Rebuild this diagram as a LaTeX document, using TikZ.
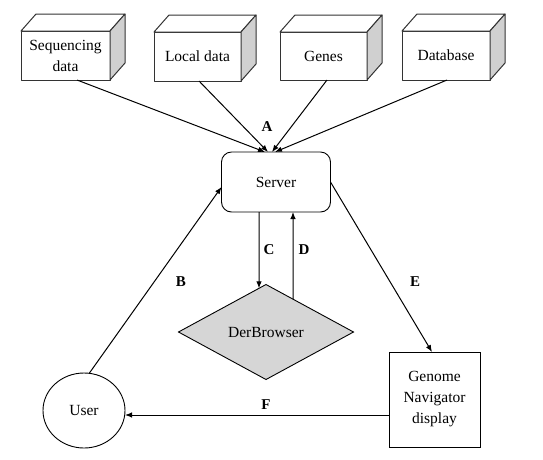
\documentclass[tikz,border=0pt]{standalone}
\usepackage{fontspec}
\setmainfont{Liberation Serif}
\usetikzlibrary{arrows.meta,shapes.geometric}
\definecolor{sidegray}{HTML}{D0D0D0}
\definecolor{diagray}{HTML}{D6D6D6}
\newcommand\cubefaces[1]{%
  \draw[boxline, fill=white] (#1.north west) -- ++(15,-17) -- ([shift={(15pt,17pt)}]#1.north east) -- (#1.north east) -- cycle;
  \draw[boxline, fill=sidegray] (#1.north east) -- ([shift={(15pt,17pt)}]#1.north east) -- ([shift={(15pt,17pt)}]#1.south east) -- (#1.south east) -- cycle;}
\begin{document}
\begin{tikzpicture}[x=1pt,y=-1pt,
  every node/.style={font=\fontsize{15.5}{21}\selectfont, inner sep=0pt, outer sep=0pt},
  boxline/.style={draw=black!80, line width=1pt, line join=round},
  cube/.style={boxline, fill=white, rectangle, align=center},
  conn/.style={line width=1pt, -{Latex[length=7pt,width=5.5pt]}},
  lbl/.style={font=\fontsize{15}{18}\selectfont\bfseries}]
\useasboundingbox (0,0) rectangle (543,459);
% top data sources
\node[cube, minimum width=89pt, minimum height=49pt] (seq) at (65.5,55.5) {Sequencing\\data};
\node[cube, minimum width=87pt, minimum height=49pt] (loc) at (197.5,56.5) {Local data};
\node[cube, minimum width=87pt, minimum height=48pt] (gen) at (323.5,56) {Genes};
\node[cube, minimum width=88pt, minimum height=49pt] (dbs) at (446,55.5) {Database};
\cubefaces{seq}\cubefaces{loc}\cubefaces{gen}\cubefaces{dbs}
% server
\node[draw, line width=0.9pt, rounded corners=10pt, minimum width=109pt, minimum height=60pt] (srv) at (276,182) {Server};
% derbrowser
\node[draw, line width=0.9pt, fill=diagray, diamond, minimum width=175pt, minimum height=95pt] (dia) at (266,332) {DerBrowser};
% user
\node[draw, line width=0.9pt, ellipse, minimum width=82pt, minimum height=75pt] (usr) at (84,410.5) {User};
% genome navigator
\node[draw, line width=1pt, rectangle, minimum width=91pt, minimum height=95pt, align=center] (gnd) at (434.5,399.5) {Genome\\Navigator\\display};
% connectors A
\draw[conn] ([xshift=11.5pt]seq.south) -- ([xshift=-11pt]srv.north);
\draw[conn] ([xshift=1.5pt]loc.south) -- ([xshift=-8pt]srv.north);
\draw[conn] ([xshift=3.5pt]gen.south) -- ([xshift=-4pt]srv.north);
\draw[conn] ([xshift=1pt]dbs.south) -- ([xshift=-1pt]srv.north);
\node[lbl] (la) at (267,127) {A};
% B
\draw[conn] (usr.82) -- ([yshift=-5pt]srv.west);
\node[lbl] (lb) at (181,282) {B};
% C and D
\draw[conn] ([xshift=-17pt]srv.south) -- (intersection of dia.north--dia.west and 259,200--259,400);
\draw[conn] (intersection of dia.north--dia.east and 293,200--293,400) -- ([xshift=17pt]srv.south);
\node[lbl] (lc) at (269,250) {C};
\node[lbl] (ld) at (304,250) {D};
% E
\draw[conn] (srv.east) -- ([xshift=-2.5pt]gnd.north);
\node[lbl] (le) at (415,282) {E};
% F
\draw[conn] (gnd.west |- 0,415) -- ([yshift=-4.5pt]usr.east);
\node[lbl] (lf) at (266,405) {F};
\end{tikzpicture}
\end{document}
